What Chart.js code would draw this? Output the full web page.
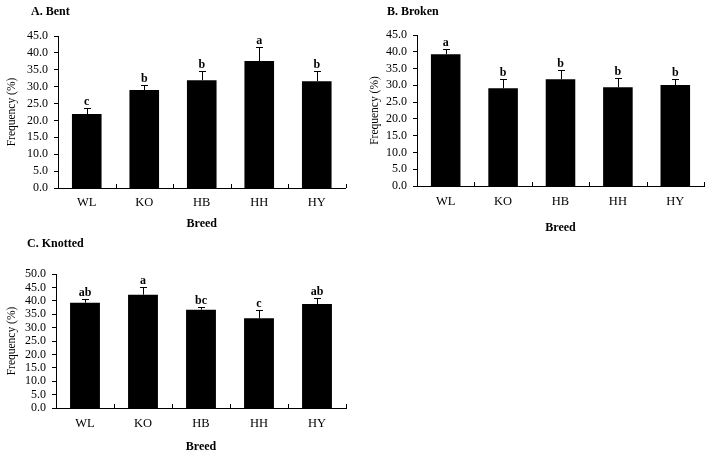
<!DOCTYPE html>
<html>
<head>
<title>Feather frequency by breed</title>
<script src="https://cdn.jsdelivr.net/npm/chart.js"></script>
<style>
    body { margin: 0; background: #fff; }
    #wrap { position: relative; width: 714px; height: 457px; }
    canvas { position: absolute; }
</style>
</head>
<body>
<div id="wrap">
    <canvas id="chartA" width="357" height="236" style="left:0;top:0"></canvas>
    <canvas id="chartB" width="357" height="236" style="left:357px;top:0"></canvas>
    <canvas id="chartC" width="357" height="227" style="left:0;top:230px"></canvas>
</div>
<script>
    const breeds = ['WL', 'KO', 'HB', 'HH', 'HY'];

    const bentMean = [21.9, 29.0, 31.9, 37.6, 31.6];
    const bentErr = [1.7, 1.6, 2.6, 4.2, 3.0];
    const bentLetters = ['c', 'b', 'b', 'a', 'b'];

    const brokenMean = [39.3, 29.1, 31.8, 29.4, 30.1];
    const brokenErr = [1.4, 2.9, 2.8, 2.9, 1.7];
    const brokenLetters = ['a', 'b', 'b', 'b', 'b'];

    const knottedMean = [39.3, 42.3, 36.7, 33.5, 38.8];
    const knottedErr = [1.3, 2.7, 1.1, 3.0, 2.2];
    const knottedLetters = ['ab', 'a', 'bc', 'c', 'ab'];

    const serif = '"Liberation Serif", "Times New Roman", serif';
    const ink = '#000';

    // error bars, significance letters, inward x ticks, the 0 tick and the panel label
    const errorBars = {
        id: 'errorBars',
        afterDatasetsDraw(chart, args, opts) {
            const ctx = chart.ctx;
            const yScale = chart.scales.y;
            const xScale = chart.scales.x;
            const means = chart.data.datasets[0].data;
            const meta = chart.getDatasetMeta(0);
            ctx.save();
            ctx.strokeStyle = '#000';
            ctx.lineWidth = 1;
            ctx.fillStyle = ink;
            ctx.font = 'bold 12px ' + serif;
            ctx.textAlign = 'center';
            ctx.textBaseline = 'alphabetic';
            meta.data.forEach((bar, i) => {
                const top = Math.round(yScale.getPixelForValue(means[i] + opts.errors[i])) + 0.5;
                const x = Math.round(bar.x) + 0.5;
                ctx.beginPath();
                ctx.moveTo(x, bar.y);
                ctx.lineTo(x, top);
                ctx.moveTo(x - 3.5, top);
                ctx.lineTo(x + 3.5, top);
                ctx.stroke();
                ctx.fillText(opts.letters[i], bar.x, top - 4);
            });
            const {left, bottom} = chart.chartArea;
            ctx.beginPath();
            for (let i = 1; i <= breeds.length; i++) {
                const bx = Math.round(xScale.getPixelForValue(i - 0.5)) + 0.5;
                ctx.moveTo(bx, bottom);
                ctx.lineTo(bx, bottom - 4);
            }
            const y0 = Math.round(yScale.getPixelForValue(0)) + 0.5;
            ctx.moveTo(left - 4, y0);
            ctx.lineTo(left, y0);
            ctx.stroke();
            ctx.textAlign = 'left';
            ctx.textBaseline = 'middle';
            ctx.fillText(opts.label, opts.labelX, opts.labelY);
            ctx.restore();
        }
    };

    function makePanel(id, means, errors, letters, yMax, label, box) {
        return new Chart(document.getElementById(id), {
            type: 'bar',
            data: {
                labels: breeds,
                datasets: [{
                    data: means,
                    backgroundColor: '#000',
                    borderWidth: 0,
                    inflateAmount: 0,
                    barPercentage: 0.515,
                    categoryPercentage: 1
                }]
            },
            options: {
                responsive: false,
                animation: false,
                layout: {padding: {left: 0, top: box.top, right: box.right, bottom: 0}},
                plugins: {
                    legend: {display: false},
                    tooltip: {enabled: false},
                    errorBars: {errors: errors, letters: letters, label: label, labelX: box.labelX, labelY: box.labelY}
                },
                scales: {
                    x: {
                        grid: {display: false, drawTicks: false},
                        border: {display: true, color: '#000', width: 1},
                        ticks: {color: ink, font: {family: serif, size: 12.5}, padding: box.xPad},
                        title: {
                            display: true,
                            text: 'Breed',
                            color: ink,
                            font: {family: serif, size: 12, weight: 'bold'},
                            padding: {top: 0, bottom: box.xTitlePad}
                        },
                        afterFit: s => { s.height = box.xHeight; }
                    },
                    y: {
                        min: 0,
                        max: yMax,
                        ticks: {
                            stepSize: 5,
                            autoSkip: false,
                            padding: 6,
                            color: ink,
                            font: {family: serif, size: 12},
                            callback: v => v.toFixed(1)
                        },
                        grid: {
                            drawOnChartArea: false,
                            drawTicks: true,
                            tickLength: 4,
                            color: '#000',
                            // the 0 tick is drawn by the plugin so bars sit on the axis
                            lineWidth: c => (c.tick && c.tick.value === 0 ? 0 : 1)
                        },
                        border: {display: true, color: '#000', width: 1},
                        title: {
                            display: true,
                            text: 'Frequency (%)',
                            color: ink,
                            font: {family: serif, size: 11.5},
                            padding: {top: box.yTitlePad, bottom: 0}
                        },
                        afterFit: s => { s.width = box.yWidth; }
                    }
                }
            },
            plugins: [errorBars]
        });
    }

    makePanel('chartA', bentMean, bentErr, bentLetters, 45, 'A. Bent',
        {top: 36, right: 11.5, yWidth: 58, xHeight: 48, xPad: 7, xTitlePad: 4.5, yTitlePad: 4.8, labelX: 31, labelY: 12});
    makePanel('chartB', brokenMean, brokenErr, brokenLetters, 45, 'B. Broken',
        {top: 35, right: 10, yWidth: 60, xHeight: 50, xPad: 8.5, xTitlePad: 0.8, yTitlePad: 10.8, labelX: 30, labelY: 12});
    makePanel('chartC', knottedMean, knottedErr, knottedLetters, 50, 'C. Knotted',
        {top: 44, right: 11, yWidth: 56, xHeight: 49, xPad: 8.5, xTitlePad: 2.8, yTitlePad: 4.8, labelX: 27, labelY: 14});
</script>
</body>
</html>
